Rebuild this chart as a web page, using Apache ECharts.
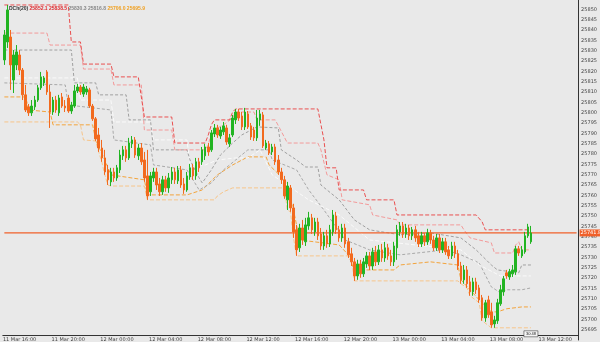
<!DOCTYPE html>
<html><head><meta charset="utf-8">
<script src="https://cdn.jsdelivr.net/npm/echarts@6/dist/echarts.min.js"></script>
<style>html,body{margin:0;padding:0;background:#e9e9e9}#c{width:600px;height:342px}</style>
</head><body><div id="c"></div>
<script>
// OHLC candles: [open, close, low, high]
const candles = [
[25825.5,25837.6,25823.1,25840.0],[25834.2,25849.7,25831.3,25852.1],[25836.6,25823.1,25811.0,25840.0],[25815.8,25827.9,25809.5,25830.3],
[25823.1,25829.4,25820.6,25832.7],[25827.9,25820.6,25818.2,25830.3],[25820.6,25808.6,25806.1,25821.6],[25808.6,25801.3,25800.3,25813.4],
[25802.8,25799.9,25798.4,25804.2],[25799.9,25803.2,25798.4,25806.1],[25802.8,25806.1,25801.3,25808.1],[25806.1,25812.0,25805.2,25813.4],
[25812.0,25817.3,25811.0,25819.7],[25814.4,25816.8,25812.9,25817.7],[25819.7,25810.0,25808.6,25820.6],[25810.0,25800.3,25792.6,25813.4],
[25800.3,25806.1,25798.9,25807.6],[25806.1,25801.3,25799.9,25808.1],[25799.9,25807.1,25798.4,25808.6],[25807.6,25803.2,25802.3,25809.5],
[25803.2,25802.3,25800.3,25806.1],[25807.1,25800.8,25799.9,25808.6],[25800.8,25803.7,25799.4,25805.2],[25803.2,25810.5,25802.3,25813.4],
[25810.5,25812.4,25809.5,25813.9],[25812.4,25810.0,25808.6,25813.4],[25809.0,25812.4,25807.6,25813.9],[25810.0,25811.5,25808.6,25812.9],
[25811.0,25803.2,25802.3,25812.0],[25803.2,25797.0,25796.0,25804.2],[25797.0,25787.3,25786.3,25797.9],[25789.2,25782.9,25781.0,25792.6],
[25782.9,25778.1,25776.2,25786.8],[25778.1,25771.3,25769.9,25782.0],[25772.3,25767.5,25765.0,25774.7],[25766.5,25771.3,25764.5,25773.3],
[25771.3,25768.4,25766.5,25773.3],[25768.4,25773.3,25767.0,25774.7],[25772.3,25779.5,25770.8,25782.0],[25779.1,25782.0,25777.1,25783.9],
[25782.0,25778.1,25776.2,25783.9],[25778.1,25785.3,25777.1,25787.8],[25784.9,25786.8,25782.9,25788.7],[25786.8,25779.5,25778.1,25788.2],
[25779.1,25782.9,25777.1,25784.9],[25782.9,25776.2,25774.7,25785.3],[25777.1,25768.4,25766.5,25781.0],[25769.4,25759.7,25757.8,25782.0],
[25761.7,25769.4,25759.7,25771.3],[25768.4,25771.3,25766.5,25773.3],[25771.3,25765.0,25762.6,25773.3],[25765.5,25761.7,25759.7,25768.4],
[25761.7,25767.5,25760.2,25769.4],[25767.5,25763.6,25761.7,25769.4],[25763.6,25768.4,25761.2,25770.8],[25767.5,25771.3,25765.5,25773.7],
[25771.3,25767.5,25765.5,25773.3],[25767.0,25772.3,25765.5,25774.2],[25772.3,25765.0,25763.6,25774.2],[25765.5,25762.6,25760.7,25768.4],
[25762.6,25769.4,25761.7,25771.3],[25768.9,25773.3,25767.5,25775.2],[25773.3,25769.4,25767.5,25775.2],[25769.4,25776.2,25767.5,25778.1],
[25776.2,25773.3,25771.3,25778.1],[25776.2,25782.0,25774.7,25783.4],[25779.1,25783.4,25777.1,25784.9],[25783.4,25781.0,25779.1,25785.3],
[25782.0,25790.2,25781.0,25791.6],[25789.7,25792.6,25788.2,25794.5],[25792.6,25789.2,25787.8,25794.1],[25788.7,25791.6,25787.3,25793.1],
[25790.7,25793.6,25789.2,25795.5],[25792.6,25785.8,25784.4,25794.1],[25784.9,25787.8,25783.4,25789.7],[25789.2,25797.4,25788.2,25798.9],
[25796.5,25800.3,25794.5,25801.8],[25800.3,25797.4,25796.0,25801.8],[25798.4,25793.1,25791.6,25800.3],[25793.1,25800.3,25791.6,25802.3],
[25799.4,25793.1,25792.1,25800.8],[25793.6,25788.2,25786.8,25795.0],[25791.6,25787.8,25786.3,25793.1],[25787.8,25797.4,25786.3,25801.3],
[25796.5,25799.4,25793.6,25801.3],[25798.9,25783.9,25782.9,25800.3],[25782.9,25785.3,25782.0,25786.8],[25784.9,25780.5,25779.5,25786.3],
[25781.0,25783.4,25779.5,25784.9],[25783.4,25776.2,25774.7,25784.9],[25777.1,25771.3,25769.9,25779.5],[25771.3,25767.5,25765.5,25773.3],
[25767.5,25759.7,25758.3,25769.4],[25757.8,25764.5,25752.9,25766.5],[25763.6,25753.9,25752.0,25765.0],[25753.9,25742.3,25739.4,25755.9],
[25743.3,25733.6,25730.7,25745.7],[25734.6,25744.2,25732.6,25746.2],[25744.2,25738.4,25736.0,25748.1],[25737.5,25745.7,25735.5,25749.1],
[25745.2,25749.1,25743.3,25752.0],[25749.1,25743.3,25741.3,25751.0],[25742.3,25747.1,25740.4,25749.1],[25747.1,25740.4,25738.4,25749.1],
[25741.3,25735.5,25733.6,25744.2],[25735.5,25740.4,25733.6,25742.3],[25740.4,25736.5,25734.6,25743.3],[25736.5,25743.3,25735.0,25745.7],
[25742.3,25750.5,25740.4,25752.9],[25750.0,25743.3,25741.3,25752.0],[25743.3,25739.4,25737.5,25745.2],[25739.4,25744.2,25737.5,25746.2],
[25744.2,25736.5,25734.6,25746.2],[25737.5,25731.2,25729.7,25739.4],[25731.7,25727.8,25725.8,25734.6],[25727.8,25721.0,25718.6,25729.7],
[25721.0,25726.8,25719.1,25728.8],[25726.8,25722.0,25720.1,25728.8],[25722.0,25727.8,25720.5,25729.7],[25726.8,25730.7,25724.9,25732.6],
[25730.7,25725.8,25723.9,25732.6],[25725.8,25732.6,25723.9,25734.6],[25732.6,25727.8,25725.8,25735.5],[25727.8,25733.6,25726.3,25736.0],
[25733.6,25729.7,25727.8,25736.5],[25729.7,25734.6,25727.8,25737.5],[25734.6,25730.7,25728.8,25736.5],[25730.7,25727.8,25725.8,25733.6],
[25727.8,25735.5,25725.8,25737.5],[25734.6,25743.3,25728.8,25745.7],[25742.3,25745.2,25740.4,25747.1],[25745.2,25741.3,25739.4,25747.1],
[25741.3,25744.2,25739.4,25746.2],[25744.2,25740.4,25738.4,25745.7],[25740.4,25743.3,25738.4,25744.7],[25743.3,25739.4,25737.5,25745.2],
[25740.4,25736.5,25735.0,25742.3],[25736.5,25740.4,25735.0,25742.3],[25740.4,25737.5,25735.5,25741.8],[25737.5,25741.8,25736.0,25743.8],
[25741.8,25738.4,25736.5,25743.3],[25738.4,25734.6,25733.1,25740.4],[25734.6,25739.4,25733.1,25741.3],[25739.4,25733.6,25732.1,25741.3],
[25733.6,25737.5,25732.1,25739.4],[25737.5,25732.6,25731.2,25739.4],[25733.6,25730.7,25729.2,25735.5],[25730.7,25735.5,25729.2,25737.5],
[25735.5,25731.7,25729.7,25737.5],[25731.7,25725.8,25723.9,25733.6],[25725.8,25719.1,25717.2,25727.8],[25719.1,25723.9,25717.2,25726.3],
[25723.9,25717.2,25715.2,25725.8],[25718.1,25713.3,25711.4,25721.0],[25713.3,25718.1,25711.4,25720.1],[25718.1,25714.3,25712.3,25720.1],
[25715.2,25709.4,25708.0,25716.7],[25710.4,25700.7,25699.3,25711.8],[25700.7,25708.0,25698.8,25709.4],[25709.4,25702.2,25700.7,25711.4],
[25703.6,25697.3,25695.9,25708.0],[25697.8,25699.7,25695.9,25701.7],[25699.3,25708.0,25697.8,25709.9],[25707.5,25714.3,25706.5,25716.7],
[25713.3,25719.6,25711.4,25721.0],[25722.5,25721.0,25719.6,25723.9],[25720.5,25723.0,25719.1,25724.4],[25722.0,25723.9,25720.5,25726.3],
[25723.0,25734.1,25721.5,25735.5],[25734.1,25732.1,25730.7,25735.5],[25730.7,25733.6,25729.7,25735.5],[25732.6,25740.4,25731.7,25742.3],
[25740.4,25744.7,25739.4,25746.2],[25737.5,25741.8,25736.5,25745.2]
];
// Channel lines as [barIndex, price] break points
const upperOuter = [[0,25852.1],[21,25852.1],[22,25834.2],[25,25834.2],[26,25823.5],[35,25823.5],[36,25817.3],[44,25817.3],[46,25797.9],[55,25797.9],[56,25785.3],[66,25785.3],[67,25789.2],[68,25794.1],[69,25796.5],[74,25796.5],[75,25800.3],[76,25801.8],[103,25801.8],[105,25786.8],[106,25773.3],[109,25773.3],[110,25762.6],[118,25762.6],[119,25757.8],[128,25757.8],[129,25750.5],[155,25750.5],[157,25747.1],[158,25743.3],[173,25743.3]];
const upperInner = [[0,25838.5],[14,25838.5],[15,25832.7],[25,25832.7],[26,25821.1],[35,25821.1],[36,25813.4],[45,25813.4],[46,25791.6],[55,25791.6],[56,25782.0],[66,25782.0],[67,25784.4],[68,25790.2],[70,25792.6],[72,25794.1],[75,25797.4],[76,25800.3],[82,25800.3],[83,25796.5],[89,25796.5],[93,25785.3],[103,25785.3],[104,25782.0],[106,25769.9],[110,25767.5],[111,25757.8],[120,25755.4],[121,25750.5],[129,25748.1],[130,25745.7],[150,25745.7],[151,25743.3],[153,25739.4],[160,25737.0],[161,25732.1],[167,25732.1],[168,25736.0],[169,25737.5],[170,25733.6],[173,25733.6]];
const midUpper = [[0,25830.3],[22,25830.3],[23,25814.4],[30,25814.4],[31,25808.6],[40,25808.6],[41,25796.5],[48,25796.5],[49,25782.0],[60,25782.0],[61,25777.1],[64,25768.4],[65,25766.0],[68,25772.3],[71,25779.5],[75,25785.3],[78,25789.2],[83,25793.1],[90,25792.6],[91,25782.0],[96,25777.1],[99,25773.7],[103,25773.7],[104,25765.0],[110,25757.8],[115,25748.1],[120,25743.3],[130,25740.9],[140,25741.8],[150,25739.4],[155,25733.6],[160,25726.3],[162,25723.9],[169,25722.5],[170,25726.3],[173,25726.3]];
const midLine = [[0,25816.8],[24,25816.8],[25,25806.1],[35,25806.1],[36,25795.5],[48,25795.5],[49,25786.8],[60,25786.8],[61,25774.7],[66,25774.7],[70,25777.1],[76,25778.1],[80,25778.1],[84,25782.0],[88,25769.9],[100,25757.8],[110,25750.5],[120,25738.4],[135,25736.0],[150,25733.6],[156,25726.3],[163,25721.0],[173,25721.0]];
const midLower = [[0,25814.4],[20,25813.4],[21,25803.7],[35,25801.3],[36,25786.8],[48,25784.4],[49,25774.7],[60,25772.3],[64,25762.6],[68,25766.0],[72,25772.3],[76,25777.1],[80,25782.0],[87,25782.0],[88,25777.1],[96,25772.3],[100,25762.6],[105,25752.9],[112,25738.4],[120,25733.6],[130,25731.2],[145,25733.6],[150,25731.2],[156,25727.3],[160,25715.7],[163,25712.8],[165,25714.3],[170,25714.3],[173,25715.2]];
const lowerInner = [[0,25807.6],[7,25807.6],[8,25801.3],[15,25800.3],[16,25794.1],[29,25794.1],[30,25786.8],[33,25777.1],[35,25769.9],[46,25767.5],[47,25760.2],[60,25760.2],[65,25762.6],[70,25769.9],[75,25774.7],[80,25778.6],[86,25778.6],[87,25774.7],[92,25767.5],[95,25752.9],[97,25738.4],[110,25736.0],[113,25731.2],[115,25723.9],[128,25723.9],[130,25726.3],[140,25727.8],[149,25726.3],[150,25719.1],[153,25714.3],[156,25709.4],[160,25703.6],[162,25703.6],[165,25705.1],[170,25706.0],[173,25706.0]];
const lowerOuter = [[0,25795.5],[24,25795.5],[25,25794.1],[26,25786.8],[30,25786.3],[31,25781.0],[32,25776.2],[33,25769.9],[34,25765.0],[35,25764.5],[46,25764.5],[47,25757.8],[69,25757.8],[70,25759.7],[72,25761.7],[75,25763.6],[92,25763.6],[93,25752.9],[94,25752.0],[95,25739.4],[96,25730.7],[114,25730.7],[115,25718.6],[149,25718.6],[150,25717.2],[152,25715.2],[153,25711.4],[156,25708.0],[157,25699.3],[160,25695.9],[173,25695.9]];
const tickLabels = ["11 Mar 16:00","11 Mar 20:00","12 Mar 00:00","12 Mar 04:00","12 Mar 08:00","12 Mar 12:00","12 Mar 16:00","12 Mar 20:00","13 Mar 00:00","13 Mar 04:00","13 Mar 08:00","13 Mar 12:00"];
const firstTick = 5, barsPerTick = 16, slotCount = 189;
const categories = [];
for (let i = 0; i < slotCount; i++) {
  const k = (i - firstTick) / barsPerTick;
  categories.push(Number.isInteger(k) && k >= 0 && k < tickLabels.length ? tickLabels[k] : 'b' + i);
}
const lastClose = candles[candles.length - 1][1];
const priceLevel = [[0, lastClose], [slotCount - 1, lastClose]];
const barTimer = '30:48';
const legendVals = {name:'DCh(20)', red:'25852.1 25838.5', gray:'25830.3 25816.8', orange:'25706.0 25695.9'};

const chart = echarts.init(document.getElementById('c'));
function lineSeries(data, color, dash, z) {
  return {type:'line', data, symbol:'none', silent:true, animation:false, z: z||2,
    lineStyle:{color, width:1, type:dash||'solid'}};
}
const priceSeries = {type:'line', data:priceLevel, symbol:'none', silent:true, animation:false, z:4,
  clip:false,
  lineStyle:{color:'#f0602a', width:1.2, type:'solid'},
  endLabel:{show:true, formatter:lastClose.toFixed(1), backgroundColor:'#f0602a', color:'#fff',
    fontSize:5, padding:[1,1], distance:3, fontFamily:'DejaVu Sans'}};
chart.setOption({
  backgroundColor:'#e9e9e9',
  animation:false,
  title:{left:4, top:1, text:'{k|'+legendVals.name+'} {r|'+legendVals.red+'} {g|'+legendVals.gray+'} {o|'+legendVals.orange+'}',
    textStyle:{fontSize:5, rich:{k:{color:'#333',fontSize:5},r:{color:'#e0282c',fontSize:5},g:{color:'#888',fontSize:5},o:{color:'#f0a020',fontSize:5}}}},
  grid:{left:0, right:18, top:0, bottom:1.8},
  xAxis:{type:'category', data:categories, boundaryGap:true, offset:-5,
    axisLine:{lineStyle:{color:'#333', width:1}},
    axisTick:{length:2, lineStyle:{color:'#555'}, interval:(i,v)=>v.charAt(0)!=='b'},
    axisLabel:{fontSize:5, color:'#444', margin:2, interval:(i,v)=>v.charAt(0)!=='b', fontFamily:'DejaVu Sans'},
    splitLine:{show:false}},
  yAxis:{type:'value', position:'right', min:25690, max:25854.5, interval:5, scale:true,
    axisLine:{show:true, lineStyle:{color:'#333', width:1}},
    axisTick:{show:false},
    axisLabel:{fontSize:5, color:'#444', margin:3, fontFamily:'DejaVu Sans',
      formatter:v=> (v%5!==0 || v<=25690) ? '' : v.toFixed(0)},
    splitLine:{show:false}},
  series:[
    lineSeries(lowerOuter,'#f7c58a',[4,2]),
    lineSeries(lowerInner,'#f3a43c',[4,2]),
    lineSeries(midLower,'#a9a9a9',[3,2]),
    lineSeries(midLine,'#fafafa',[4,2]),
    lineSeries(midUpper,'#a0a0a0',[3,2]),
    lineSeries(upperInner,'#f39a9a',[4,2]),
    lineSeries(upperOuter,'#ea5050',[4,2],3),
    priceSeries,
    {type:'candlestick', data:candles, barWidth:2, z:5, animation:false,
      itemStyle:{color:'#22b422', color0:'#f26a1e', borderColor:'#22b422', borderColor0:'#f26a1e', borderWidth:1},
      markPoint:{silent:true, animation:false, symbol:'rect', symbolSize:[14,6],
        itemStyle:{color:'#f4f4f4', borderColor:'#333', borderWidth:0.5},
        label:{show:true, formatter:barTimer, fontSize:4, color:'#222'},
        data:[{coord:[candles.length-1, 25693.0]}]}}
  ]
});
</script></body></html>
